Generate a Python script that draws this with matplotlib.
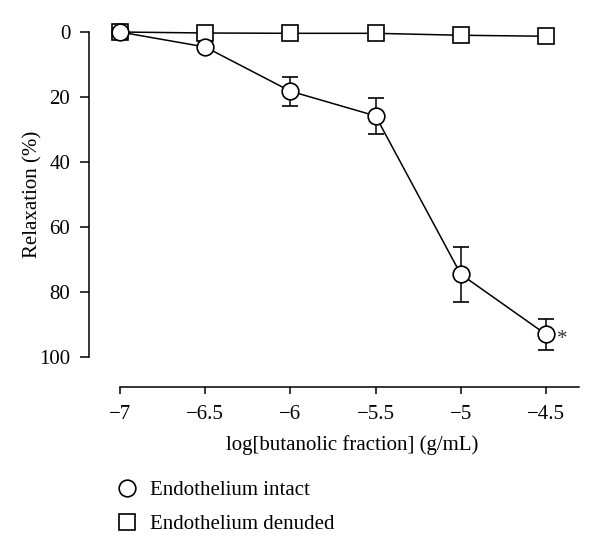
import numpy as np
import matplotlib.pyplot as plt
from matplotlib.lines import Line2D

plt.rcParams['font.family'] = ['Liberation Serif', 'DejaVu Serif']

# data
log_conc = [-7, -6.5, -6, -5.5, -5, -4.5]
intact_mean = [0, 4.6, 18.2, 25.8, 74.5, 93.0]
intact_err = [0, 0, 4.5, 5.6, 8.4, 4.8]
denuded_mean = [0, 0.3, 0.4, 0.4, 1.0, 1.3]
x_ticks = [-7, -6.5, -6, -5.5, -5, -4.5]
x_ticklabels = ["\u22127", "\u22126.5", "\u22126", "\u22125.5", "\u22125", "\u22124.5"]
y_ticks = [0, 20, 40, 60, 80, 100]

fig = plt.figure(figsize=(6, 5.52), dpi=100)
ax = fig.add_axes([0.1483, 0.2989, 0.8167, 0.6431])

ax.plot(log_conc, denuded_mean, color='black', lw=1.1, marker='s', ms=11.5,
        mfc='white', mec='black', mew=1.2, clip_on=False, zorder=3)
ax.errorbar(log_conc, intact_mean, yerr=intact_err, color='black', lw=1.1,
            marker='o', ms=12, mfc='white', mec='black', mew=1.2,
            elinewidth=1.1, capsize=6, capthick=1.1, clip_on=False, zorder=4)
ax.text(-4.405, 94.6, "*", fontsize=15, color='#333333', ha='center', va='center')

ax.set_xlim(-7.182, -4.306)
ax.set_ylim(109.2, 0)
ax.spines['top'].set_visible(False)
ax.spines['right'].set_visible(False)
ax.spines['left'].set_bounds(0, 100)
ax.spines['bottom'].set_bounds(-7, -4.306)
for s in ['left', 'bottom']:
    ax.spines[s].set_linewidth(1.1)

ax.set_xticks(x_ticks)
ax.set_xticklabels(x_ticklabels)
ax.set_yticks(y_ticks)
ax.tick_params(axis='y', direction='out', length=6.5, width=1.1, labelsize=15, pad=7)
ax.tick_params(axis='x', direction='out', length=5, width=1.1, labelsize=15, pad=8)

ax.set_xlabel("log[butanolic fraction] (g/mL)", fontsize=15, labelpad=8)
ax.xaxis.label.set_x(0.537)
ax.set_ylabel("Relaxation (%)", fontsize=15)
ax.yaxis.set_label_coords(-0.094, 0.542)

handles = [Line2D([], [], ls='none', marker='o', ms=12, mfc='white', mec='black', mew=1.2),
           Line2D([], [], ls='none', marker='s', ms=11.5, mfc='white', mec='black', mew=1.2)]
fig.legend(handles, ["Endothelium intact", "Endothelium denuded"],
           loc='upper left', bbox_to_anchor=(0.194, 0.130), frameon=False,
           fontsize=15, handlelength=1.0, handletextpad=0.6, labelspacing=0.7,
           borderaxespad=0, borderpad=0)

fig.savefig("out.png", dpi=100)
